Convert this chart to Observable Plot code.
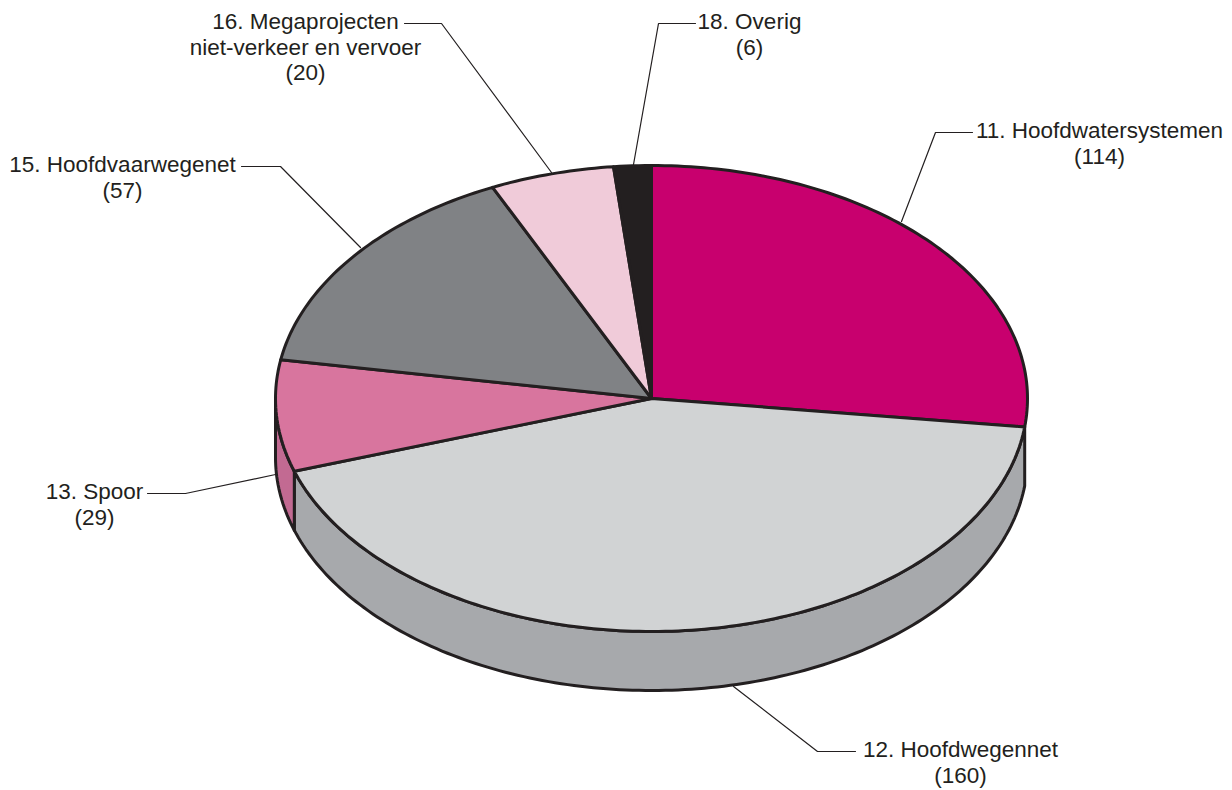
<!DOCTYPE html>
<html>
<head>
<meta charset="utf-8">
<script src="https://cdn.jsdelivr.net/npm/d3@7"></script>
<script src="https://cdn.jsdelivr.net/npm/@observablehq/plot@0.6"></script>
<style>html,body{margin:0;padding:0;background:#fff}svg{display:block}</style>
</head>
<body>
<div id="chart"></div>
<script>
// Slices, clockwise from the top of the pie
const names  = ["11","12","13","15","16","18"];
const values = [114,160,29,57,20,6];
const labels = [
  "11. Hoofdwatersystemen\n(114)",
  "12. Hoofdwegennet\n(160)",
  "13. Spoor\n(29)",
  "15. Hoofdvaarwegenet\n(57)",
  "16. Megaprojecten\nniet-verkeer en vervoer\n(20)",
  "18. Overig\n(6)"
];
const topColors  = ["#c8006e","#d1d3d4","#d8759e","#808285","#f0cbd9","#231f20"];
const wallColors = ["#c8006e","#a7a9ac","#c26a92","#808285","#f0cbd9","#231f20"];
// Slice boundaries as drawn in the tilted picture (degrees round the ellipse)
const startAngles = [0, 97, 251.8, 279.6, 335, 354.2];
const endAngles   = [97, 251.8, 279.6, 335, 354.2, 360];
const labelX = [1099, 960, 94, 122, 305, 749];
const labelY = [120, 739, 481, 154, 11, 11];
const leaderX = [[972,935,901],[855,817,733],[147,185,275],[241,280,360],[404,441,551],[695,658,633]];
const leaderY = [[132,132,221],[751,751,686],[493,493,474],[166,166,247],[23,23,172],[23,23,164]];

const W = 1232, H = 790;
const cx = 651, cy = 398, rx = 376, ry = 233, depth = 59;
const wallFrom = 97, wallTo = 270;
const ink = "#231f20";

const rad = d => d * Math.PI / 180;
const rim = (a, dy = 0) => ({x: cx + rx * Math.sin(rad(a)), y: cy - ry * Math.cos(rad(a)) + dy});
const arc = (a0, a1, dy = 0) => {
  const n = Math.max(2, Math.ceil(Math.abs(a1 - a0)));
  return d3.range(n + 1).map(i => rim(a0 + (a1 - a0) * i / n, dy));
};

const faces = names.flatMap((name, i) => {
  const pts = [{x: cx, y: cy}, ...arc(startAngles[i], endAngles[i]), {x: cx, y: cy}];
  return pts.map(p => ({...p, name}));
});

// Only the rim facing the viewer has a visible wall
const walls = names.flatMap((name, i) => {
  const a0 = Math.max(startAngles[i], wallFrom), a1 = Math.min(endAngles[i], wallTo);
  if (a1 <= a0) return [];
  const upper = arc(a0, a1), lower = arc(a1, a0, depth);
  return [...upper, ...lower, upper[0]].map(p => ({...p, name}));
});

const leaders = names.flatMap((name, i) =>
  leaderX[i].map((x, j) => ({x, y: leaderY[i][j], name})));
const labelRows = names.map((name, i) => ({name, x: labelX[i], y: labelY[i], text: labels[i]}));

const plot = Plot.plot({
  width: W, height: H,
  margin: 0,
  x: {domain: [0, W], range: [0, W], axis: null},
  y: {domain: [0, H], range: [0, H], axis: null},
  color: {domain: names, range: topColors},
  marks: [
    ...names.map((name, i) => Plot.line(walls.filter(d => d.name === name), {
      x: "x", y: "y", fill: wallColors[i], stroke: ink, strokeWidth: 3, strokeLinejoin: "round"
    })),
    Plot.line(leaders, {x: "x", y: "y", z: "name", stroke: ink, strokeWidth: 1.2}),
    Plot.line(faces, {
      x: "x", y: "y", z: "name", fill: "name", stroke: ink, strokeWidth: 3, strokeLinejoin: "round"
    }),
    Plot.text(labelRows, {
      x: "x", y: "y", text: "text", textAnchor: "middle", lineAnchor: "top", lineHeight: 1.125,
      fontFamily: "Liberation Sans", fontSize: 22.5, fill: ink
    })
  ],
  style: {background: "#fff"}
});
document.getElementById("chart").append(plot);
</script>
</body>
</html>
